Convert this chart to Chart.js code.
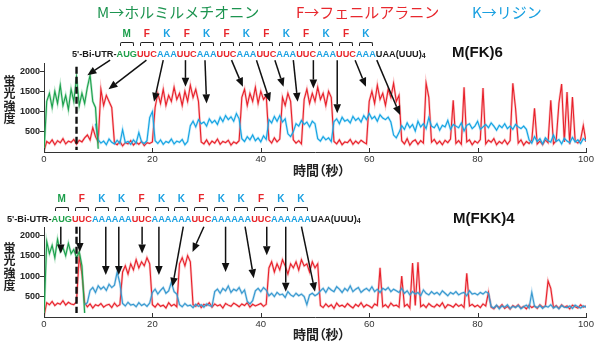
<!DOCTYPE html>
<html>
<head>
<meta charset="utf-8">
<script src="https://cdn.jsdelivr.net/npm/chart.js@4.4.0/dist/chart.umd.min.js"></script>
<style>
  body { margin: 0; width: 599px; height: 344px; position: relative; background: #fff; overflow: hidden;
         font-family: "Liberation Sans", Arial, sans-serif; }
  .panel { position: absolute; left: 0; width: 599px; height: 172px; }
  .legend { position: absolute; top: 3px; font: 15px/18px "Noto Sans CJK JP", sans-serif; white-space: nowrap; }
  .seq { position: absolute; display: flex; align-items: flex-end; white-space: nowrap;
         font: bold 9.2px/10px "Liberation Sans", Arial, sans-serif; color: #1a1a1a; }
  .cod { display: flex; flex-direction: column; align-items: center; }
  .aa { font: bold 10px/10px "Liberation Sans", Arial, sans-serif; margin-bottom: 3px; }
  .br { width: 12px; height: 3px; border: 1.5px solid #222; border-bottom: none; border-radius: 2px 2px 0 0; margin-bottom: 3px; }
  .seq sub { font-size: 7px; line-height: 7px; vertical-align: -1px; }
  .name { position: absolute; font: bold 15px/15px "Liberation Sans", Arial, sans-serif; color: #111; }
  .ytitle { position: absolute; left: 3px; writing-mode: vertical-rl; text-orientation: upright;
            font: bold 12px/13px "Noto Sans CJK JP", sans-serif; letter-spacing: 0.5px; color: #222; }
  .xtitle { position: absolute; left: 293px; font: bold 13px/13px "Noto Sans CJK JP", sans-serif;
            font-feature-settings: "palt"; color: #222; white-space: nowrap; }
</style>
</head>
<body>
<div class="panel" style="top:0"><canvas id="chartTop"></canvas></div>
<div class="panel" style="top:172px"><canvas id="chartBottom"></canvas></div>

<div class="legend" style="left:97px;color:#1d9450">M→ホルミルメチオニン</div>
<div class="legend" style="left:296px;color:#e8282e">F→フェニルアラニン</div>
<div class="legend" style="left:472px;color:#1aa0e0">K→リジン</div>

<div class="seq" id="seqTop" style="left:72px;top:29px"></div>
<div class="seq" id="seqBottom" style="left:7px;top:194px"></div>
<div class="name" style="left:452px;top:44px">M(FK)6</div>
<div class="name" style="left:453px;top:210px">M(FKK)4</div>

<div class="ytitle" style="top:75px">蛍光強度</div>
<div class="ytitle" style="top:242px">蛍光強度</div>
<div class="xtitle" style="top:163px">時間（秒）</div>
<div class="xtitle" style="top:327px">時間（秒）</div>

<script>
// sampling of the traces (seconds)
const sampleStep = 0.5;

const xTicks = [0, 20, 40, 60, 80, 100];
const yTicks = [500, 1000, 1500, 2000];

// ---- M(FK)6 ----
const aminoTop = ['M', 'F', 'K', 'F', 'K', 'F', 'K', 'F', 'K', 'F', 'K', 'F', 'K'];
const codonTop = ['AUG', 'UUC', 'AAA', 'UUC', 'AAA', 'UUC', 'AAA', 'UUC', 'AAA', 'UUC', 'AAA', 'UUC', 'AAA'];

const greenTopStart = 0;
const greenTop = [0, 1250, 1450, 1100, 1500, 1200, 1650, 1150, 1400, 1050, 1550, 1250, 1850, 1150, 1450, 1200,
  1600, 1900, 1250, 1100, 80];

const redTopStart = 0;
const redTop = [
  20, 260, 210, 300, 180, 280, 230, 330, 200, 270, 240, 310, 190, 290, 250, 350,      // 0 - 7.5
  420, 300, 600, 380, 250,                                                            // 8 - 10
  1550, 1150, 1400, 1250, 1100,                                                       // 10.5 - 12.5
  220, 180, 260, 150, 230, 200, 280, 170, 240, 190, 260, 160, 230, 210, 250,          // 13 - 20
  1100, 1450, 1200, 1550, 1150, 1400, 1250, 1600, 1300, 1450, 1150, 1500, 1250, 1650, 1350, 1550, 1250, // 20.5 - 28.5
  250, 200, 300, 180, 270, 220, 320, 190, 260, 230, 290, 170, 250, 210, 280,          // 29 - 36
  1350, 1550, 1150, 1450, 1250, 1600, 1200, 1500, 1300, 1400,                         // 36.5 - 41
  300, 220, 350, 250, 320,                                                            // 41.5 - 43.5
  1350, 1150, 1450, 1250,                                                             // 44 - 45.5
  300, 220, 280, 200,                                                                 // 46 - 47.5
  1300, 1550, 1200, 1450, 1250, 1600, 1300, 1450, 1150, 1500, 1350,                   // 48 - 53
  260, 200, 300, 180, 250, 230, 310, 190, 270, 210, 290, 240, 200,                    // 53.5 - 59.5
  1250, 1500, 1200, 1650, 1300, 1450, 1150, 1550, 1350, 1700, 1250, 1400,             // 60 - 65.5
  280, 200, 330, 170, 260, 300, 190, 280, 220, 1700,                                  // 66 - 70.5
  1350, 240, 310, 200, 270, 180, 290, 230, 320, 1280,
  210, 280, 190, 1600, 250, 300, 180, 270, 220, 310,
  1580, 200, 290, 240, 330, 180, 260, 210, 300, 190,
  280, 1700, 1080, 220, 300, 170, 260, 210, 290, 1080,
  200, 270, 180, 300, 230, 1280, 200, 280, 1200, 1680,
  250, 1480, 190, 1360, 270, 220, 300, 650, 250                                       // 96 - 100
];

const blueTopStart = 9.5;
const blueTop = [
  700,
  300, 220, 270, 180, 320, 240, 200, 290, 210, 550, 230, 260, 190, 300, 220, 480, 250, 210, 280, // 10 - 19
  850, 1000,
  280, 210, 300, 190, 260, 230, 320, 200, 270, 240, 310, 180, 260,                    // 20.5 - 26.5
  650, 760, 620, 800, 700, 740, 640, 820, 720, 780, 680, 860, 750, 900, 800, 870, 760, 950, 820, // 27 - 36
  330, 260, 380, 300, 420, 280, 350, 250, 400, 310,                                   // 36.5 - 41
  800, 720, 880, 760, 900, 740, 820,                                                  // 41.5 - 44.5
  450, 380, 500,
  700, 640, 780, 680, 740, 620, 760, 700,                                             // 46.5 - 50
  330, 270, 380, 300, 350, 260,                                                       // 50.5 - 53
  750, 820, 700, 860, 760, 800, 720, 880, 780, 840, 740, 900, 800, 950, 820, 880, 760, 920, 840, 800,
  860, 740,                                                                           // 53.5 - 64
  420, 350, 480,
  650, 560, 720, 600, 680, 520, 760, 620, 700, 580, 850, 640, 600, 700, 540, 660, 620, 780, 560, 680,
  640, 600, 720, 520, 660, 700, 580, 640, 760, 560, 620, 680, 600, 720, 640, 540, 660, 600, 700, 580,
  640, 560, 680, 620, 580, 640, 560,                                                  // 66 - 89
  300, 220, 380, 260, 330, 200, 350, 280, 240, 420, 260, 310, 200, 340, 270, 230, 360, 250, 300, 210,
  330, 280                                                                            // 89.5 - 100
];

// [start x, start y, tip x, tip y]
const arrowsTop = [
  [12.2, 2270, 8.0, 1900], [18.9, 2270, 11.9, 1550], [22.0, 2270, 20.3, 1240], [26.1, 2270, 26.1, 1610],
  [29.7, 2270, 30.0, 1200], [34.6, 2270, 36.7, 1610], [39.2, 2270, 41.7, 1240], [42.6, 2270, 44.2, 1610],
  [46.0, 2270, 46.8, 1240], [49.7, 2270, 49.7, 1570], [54.1, 2270, 54.1, 955], [57.4, 2270, 59.4, 1610],
  [61.4, 2270, 65.7, 915]
];
const dashTop = [6, 2110, 50];

// ---- M(FKK)4 ----
const aminoBottom = ['M', 'F', 'K', 'K', 'F', 'K', 'K', 'F', 'K', 'K', 'F', 'K', 'K'];
const codonBottom = ['AUG', 'UUC', 'AAA', 'AAA', 'UUC', 'AAA', 'AAA', 'UUC', 'AAA', 'AAA', 'UUC', 'AAA', 'AAA'];

const greenBottomStart = 0;
const greenBottom = [0, 1850, 1550, 1750, 1450, 1900, 1600, 1700, 1500, 1800, 1550, 1650, 1450, 1600, 1250, 100];

const redBottomStart = 0;
const redBottom = [
  20, 350, 300, 380, 280, 340, 310, 400, 290, 360, 320, 300, 370,                     // 0 - 6
  1500, 1050,
  350, 250, 320, 220, 300, 270, 330, 240, 290, 310, 230, 340, 260, 300,               // 7.5 - 14
  1100, 1250, 1050, 1300, 1150, 1400, 1200, 1350, 1250, 1450, 1300,                   // 14.5 - 19.5
  300, 240, 330, 260, 290, 220, 350, 270, 310, 250,                                   // 20 - 24.5
  1300, 1450, 1250, 1500, 1350,                                                       // 25 - 27
  300, 260, 340, 230, 310, 280, 350, 240, 320, 270, 300, 220, 330, 290, 260, 340, 300, 250, 320, 280,
  350, 240, 310, 270, 300, 330, 260, 310,                                             // 27.5 - 41
  1200, 1350, 1100, 1300, 1150, 1400, 1250, 1050, 1300, 1200, 1350, 1150, 1400, 1250, 1300, 1100, 1350,
  1200, 1300,                                                                         // 41.5 - 50.5
  280, 230, 320, 250, 300, 210, 340, 260, 290, 240,                                   // 51 - 55.5
  330, 270, 220, 310, 260, 350, 240, 300, 270, 220,
  320, 280, 1200, 250, 300, 230, 340, 270, 290, 240,
  1000, 260, 310, 220, 1320, 280, 1340, 250, 300, 230,
  330, 270, 240, 310, 260, 350, 220, 300, 280, 240,
  320, 260, 300, 230, 1070, 270, 310, 250, 290, 230,
  320, 270, 600, 240, 200, 280, 230, 300, 210, 260,
  190, 280, 240, 300, 220, 260, 200, 290, 230, 270,
  210, 300, 240, 260, 880, 700, 230, 280, 210, 300,
  240, 270, 200, 290, 250, 220, 300, 240, 270                                         // 96 - 100
];

const blueBottomStart = 7.5;
const blueBottom = [
  300, 350,
  650, 720, 600, 760, 680, 740, 650, 800, 720, 780, 1100, 820,                        // 8.5 - 14
  330, 270, 360, 290, 310, 250, 350, 280, 320, 260, 340,                              // 14.5 - 19.5
  600, 680, 560, 650, 720, 580, 640, 850, 620, 560,                                   // 20 - 24.5
  300, 250, 330, 270, 290, 230, 310, 260, 300, 240, 320, 280, 260,                    // 25 - 31
  620, 680, 580, 700, 640, 760, 600, 680, 640, 720, 580, 660,                         // 31.5 - 37
  380, 320, 400,
  640, 700, 620, 720, 660,                                                            // 39 - 41
  520, 580, 500, 600, 540, 560, 480, 620, 540, 500, 580, 520, 560, 500, 300, 540, 580, 520, 560, // 41.5 - 50.5
  640, 700, 600, 720, 660, 620, 740, 680, 600, 700, 640, 760, 620, 680, 720, 600, 660, 700, 640, 740,
  620, 680, 600, 700, 660, 720, 620, 680, 640, 600, 700,                              // 51 - 66
  580, 640, 540, 620, 560, 600, 520, 660, 580, 540, 620, 560, 600, 540, 640, 580, 520, 600, 560, 620,
  540, 580, 600, 520, 640, 560, 580, 540, 600, 560, 620, 580,                         // 66.5 - 82
  260, 220, 290, 200, 270, 240, 300, 210, 260, 230, 280, 200, 250, 290, 220, 600, 260, 230, 280, 210,
  270, 240, 300, 220, 260, 200, 280, 240, 230, 270, 210, 290, 250, 220, 270, 240      // 82.5 - 100
];

const arrowsBottom = [
  [3.1, 2207, 3.1, 1550], [6.6, 2207, 6.6, 1590], [11.4, 2207, 11.4, 1025], [13.8, 2207, 13.8, 1025],
  [18.1, 2207, 18.1, 1550], [21.2, 2207, 21.2, 1025], [25.7, 2207, 23.7, 740], [29.5, 2207, 27.4, 1590],
  [33.5, 2207, 33.5, 1100], [37.1, 2207, 38.7, 945], [41.1, 2207, 41.1, 1510], [44.6, 2207, 44.6, 620],
  [47.5, 2207, 50.0, 620]
];
const dashBottom = [6, 2207, 100];

const aminoColor = { M: '#1a9e4a', F: '#e8262b', K: '#1ba1e2' };
const codonColor = { AUG: '#20a04b', UUC: '#e8262b', AAA: '#1ba1e2' };

function buildSeq(id, aminos, codons) {
  const el = document.getElementById(id);
  let html = '<span>5\'-Bi-UTR-</span>';
  codons.forEach((c, i) => {
    html += '<span class="cod"><span class="aa" style="color:' + aminoColor[aminos[i]] + '">' + aminos[i] +
      '</span><span class="br"></span><span style="color:' + codonColor[c] + '">' + c + '</span></span>';
  });
  html += '<span>UAA(UUU)<sub>4</sub></span>';
  el.innerHTML = html;
}
buildSeq('seqTop', aminoTop, codonTop);
buildSeq('seqBottom', aminoBottom, codonBottom);

function toPoints(values, start) {
  return values.map((v, i) => ({ x: start + i * sampleStep, y: v }));
}

function drawArrow(ctx, x0, y0, x1, y1) {
  const ang = Math.atan2(y1 - y0, x1 - x0);
  const len = 9, half = 3.8;
  const bx = x1 - Math.cos(ang) * len, by = y1 - Math.sin(ang) * len;
  ctx.beginPath();
  ctx.moveTo(x0, y0);
  ctx.lineTo(bx, by);
  ctx.stroke();
  ctx.beginPath();
  ctx.moveTo(x1, y1);
  ctx.lineTo(bx + Math.sin(ang) * half, by - Math.cos(ang) * half);
  ctx.lineTo(bx - Math.sin(ang) * half, by + Math.cos(ang) * half);
  ctx.closePath();
  ctx.fill();
}

const overlayPlugin = {
  id: 'overlay',
  afterDraw(chart, args, opts) {
    const { ctx } = chart;
    const x = chart.scales.x, y = chart.scales.y;
    ctx.save();
    // inward ticks on the time axis
    ctx.strokeStyle = '#333';
    ctx.lineWidth = 1;
    xTicks.forEach(v => {
      const px = Math.round(x.getPixelForValue(v)) + 0.5;
      ctx.beginPath();
      ctx.moveTo(px, y.bottom);
      ctx.lineTo(px, y.bottom - 4);
      ctx.stroke();
    });
    // dashed marker
    const d = opts.dash;
    ctx.strokeStyle = '#111';
    ctx.lineWidth = 2.4;
    ctx.setLineDash([7, 3]);
    ctx.beginPath();
    ctx.moveTo(x.getPixelForValue(d[0]), y.getPixelForValue(d[1]));
    ctx.lineTo(x.getPixelForValue(d[0]), y.getPixelForValue(d[2]));
    ctx.stroke();
    ctx.setLineDash([]);
    // arrows
    ctx.strokeStyle = '#111';
    ctx.fillStyle = '#111';
    ctx.lineWidth = 1.5;
    opts.arrows.forEach(a => {
      drawArrow(ctx, x.getPixelForValue(a[0]), y.getPixelForValue(a[1]),
                x.getPixelForValue(a[2]), y.getPixelForValue(a[3]));
    });
    ctx.restore();
  }
};

// each trace = a soft wide stroke under a sharp thin one (same values)
function traceSets(label, points, color, halo) {
  return [
    { label: label, data: points, borderColor: color, borderWidth: 1.1, pointRadius: 0, tension: 0, fill: false },
    { label: label + ' halo', data: points, borderColor: halo, borderWidth: 2.4, pointRadius: 0, tension: 0, fill: false }
  ];
}

function makePanel(canvasId, sets, arrows, dash, padTop, axisHeight) {
  return new Chart(document.getElementById(canvasId), {
    type: 'line',
    data: { datasets: sets },
    options: {
      responsive: true,
      maintainAspectRatio: false,
      animation: false,
      events: [],
      layout: { padding: { top: padTop, right: 13, bottom: 0, left: 0 } },
      plugins: {
        legend: { display: false },
        tooltip: { enabled: false },
        overlay: { arrows: arrows, dash: dash }
      },
      scales: {
        x: {
          type: 'linear', min: 0, max: 100,
          afterBuildTicks: s => { s.ticks = xTicks.map(v => ({ value: v })); },
          afterFit: s => { s.height = axisHeight; },
          grid: { display: false, drawTicks: false },
          border: { color: '#333', width: 1 },
          ticks: { padding: 2, color: '#333', font: { family: 'Liberation Sans', size: 9.5 }, maxRotation: 0,
                   callback: v => String(v) }
        },
        y: {
          min: 0, max: 2200,
          afterBuildTicks: s => { s.ticks = yTicks.map(v => ({ value: v })); },
          afterFit: s => { s.width = 44; },
          grid: { drawOnChartArea: false, drawTicks: true, tickLength: 4, color: '#333' },
          border: { color: '#333', width: 1 },
          ticks: { padding: 0, color: '#222', font: { family: 'Liberation Sans', size: 9, weight: 'bold' },
                   callback: v => String(v) }
        }
      }
    },
    plugins: [overlayPlugin]
  });
}

makePanel('chartTop', [
  ...traceSets('M', toPoints(greenTop, greenTopStart), '#1ba04c', 'rgba(80,190,120,0.4)'),
  ...traceSets('K', toPoints(blueTop, blueTopStart), '#13a3e2', 'rgba(90,195,240,0.4)'),
  ...traceSets('F', toPoints(redTop, redTopStart), '#e8202a', 'rgba(240,110,115,0.4)')
], arrowsTop, dashTop, 63, 20);

makePanel('chartBottom', [
  ...traceSets('M', toPoints(greenBottom, greenBottomStart), '#1ba04c', 'rgba(80,190,120,0.4)'),
  ...traceSets('K', toPoints(blueBottom, blueBottomStart), '#3598cf', 'rgba(100,175,220,0.4)'),
  ...traceSets('F', toPoints(redBottom, redBottomStart), '#e8202a', 'rgba(240,110,115,0.4)')
], arrowsBottom, dashBottom, 55, 27);
</script>
</body>
</html>
